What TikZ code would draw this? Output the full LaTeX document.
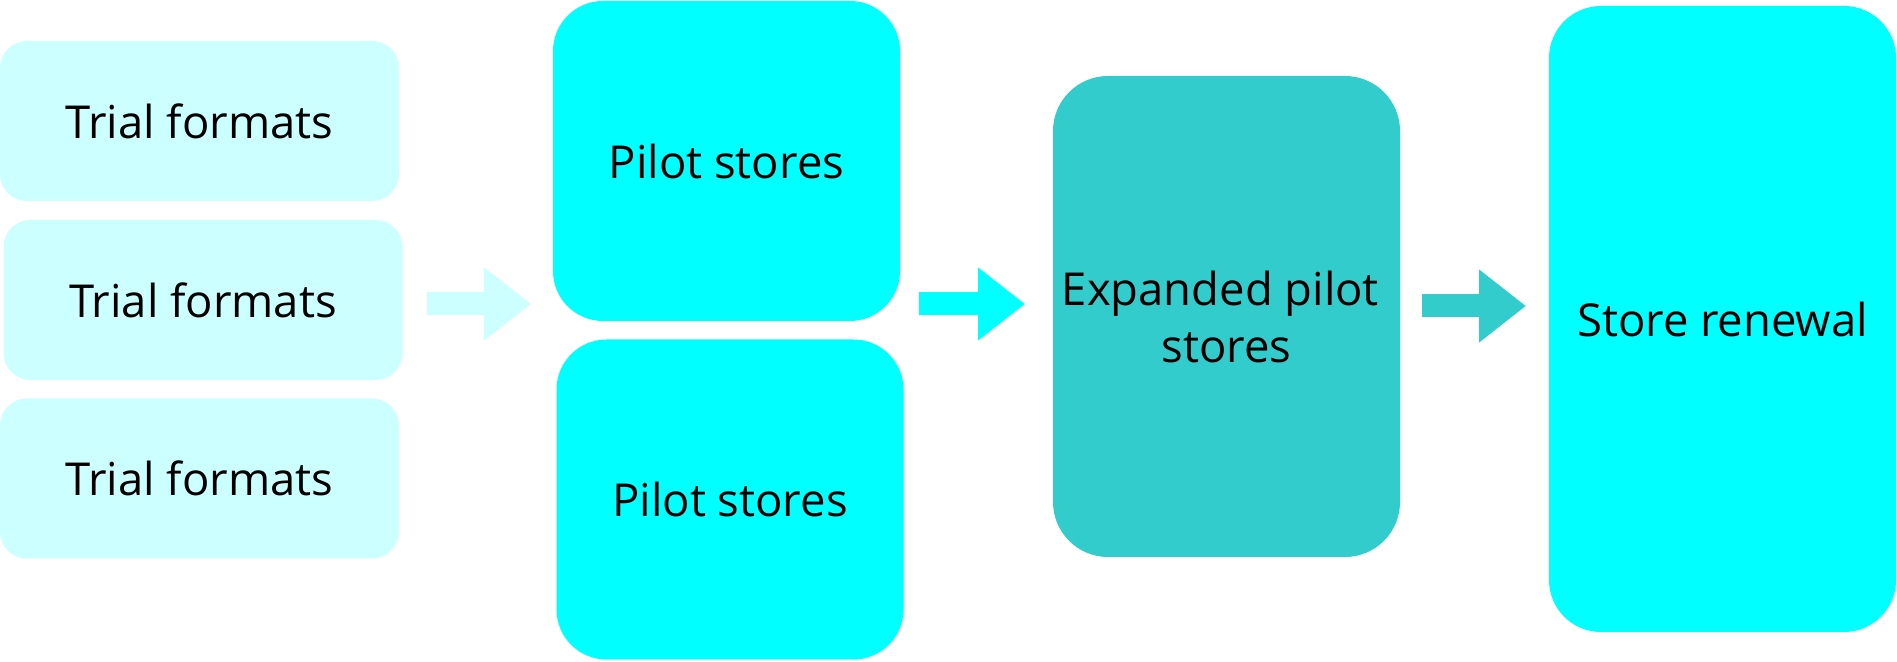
\documentclass[tikz,border=0pt]{standalone}
\usepackage{fontspec}
\setmainfont{Open Sans}
\usepackage{tikz}
\usetikzlibrary{arrows.meta,positioning,calc}
\definecolor{trialcol}{HTML}{CCFFFF}
\definecolor{pilotcol}{HTML}{00FFFF}
\definecolor{expcol}{HTML}{33CCCC}
\tikzset{
  stage/.style={rectangle, align=center, inner sep=0pt, text=black,
    font=\fontsize{22.7pt}{28.5pt}\selectfont},
  trialbox/.style={stage, fill=trialcol, rounded corners=13.5pt,
    minimum width=199.5pt, minimum height=80pt},
  pilotbox/.style={stage, fill=pilotcol, rounded corners=25pt,
    minimum width=173.5pt, minimum height=160pt},
  expbox/.style={stage, fill=expcol, rounded corners=27.5pt,
    minimum width=173.5pt, minimum height=240.5pt},
  renewbox/.style={stage, fill=pilotcol, rounded corners=26pt,
    minimum width=173.5pt, minimum height=313pt},
  blockarrow/.style={line width=11.5pt, -{Triangle[length=23.5pt, width=35pt]}},
}

\begin{document}
\begin{tikzpicture}[x=0.5pt, y=-0.5pt]
  \useasboundingbox (0,0) rectangle (1897,662);
  \node[trialbox] (trial1) at (199.5,121) {Trial formats};
  \node[trialbox] (trial2) at (203,300) {Trial formats};
  \node[trialbox] (trial3) at (199.5,478.5) {Trial formats};
  \node[pilotbox] (pilot1) at (726.5,161) {Pilot stores};
  \node[pilotbox] (pilot2) at (730,499.5) {Pilot stores};
  \node[expbox] (exp) at (1226.5,316.5) {Expanded pilot\kern0.27em\\stores};
  \node[renewbox] (renew) at (1722.5,319) {Store renewal};
  % block arrows between the stages
  \coordinate (a1s) at (427,304);
  \coordinate (a1e) at (531,304);
  \coordinate (a2s) at (919,304);
  \coordinate (a2e) at (1025,304);
  \coordinate (a3s) at (1422,306);
  \coordinate (a3e) at (1526,306);
  \draw[blockarrow, draw=trialcol, fill=trialcol] (a1s) -- (a1e);
  \draw[blockarrow, draw=pilotcol, fill=pilotcol] (a2s) -- (a2e);
  \draw[blockarrow, draw=expcol, fill=expcol] (a3s) -- (a3e);
\end{tikzpicture}
\end{document}
